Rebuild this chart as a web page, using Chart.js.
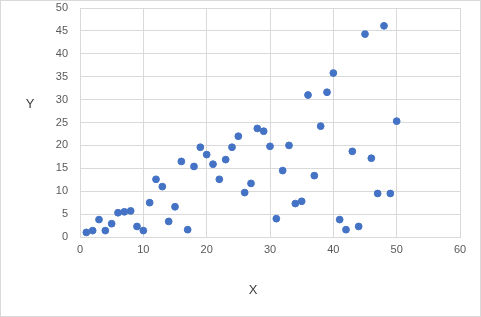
<!DOCTYPE html>
<html>
<head>
<meta charset="utf-8">
<script src="https://cdn.jsdelivr.net/npm/chart.js@4/dist/chart.umd.min.js"></script>
<style>
  body { margin: 0; background: #fff; }
  #wrap { width: 481px; height: 317px; box-sizing: border-box; border: 1px solid #d9d9d9; background: #fff; }
  #wrap canvas { display: block; }
</style>
</head>
<body>
<div id="wrap"><canvas id="scatterChart" width="479" height="315"></canvas></div>
<script>
const xValues = [1, 2, 3, 4, 5, 6, 7, 8, 9, 10,
                 11, 12, 13, 14, 15, 16, 17, 18, 19, 20,
                 21, 22, 23, 24, 25, 26, 27, 28, 29, 30,
                 31, 32, 33, 34, 35, 36, 37, 38, 39, 40,
                 41, 42, 43, 44, 45, 46, 47, 48, 49, 50];
const yValues = [1.0, 1.4, 3.8, 1.4, 2.9, 5.3, 5.5, 5.7, 2.3, 1.4,
                 7.5, 12.6, 11.0, 3.4, 6.6, 16.5, 1.6, 15.4, 19.6, 18.0,
                 15.9, 12.6, 16.9, 19.6, 22.0, 9.7, 11.7, 23.7, 23.1, 19.8,
                 4.0, 14.5, 20.0, 7.3, 7.8, 31.0, 13.4, 24.2, 31.6, 35.8,
                 3.8, 1.6, 18.7, 2.3, 44.3, 17.2, 9.5, 46.1, 9.5, 25.3];
const xAxisRange = { min: 0, max: 60, step: 10 };
const yAxisRange = { min: 0, max: 50, step: 5 };
const xTitle = 'X';
const yTitle = 'Y';

const points = xValues.map((x, i) => ({ x: x, y: yValues[i] }));

// axis titles sit where Excel puts them (Y is horizontal, not rotated)
const axisTitles = {
    id: 'axisTitles',
    afterDraw(chart) {
        const { ctx, chartArea } = chart;
        ctx.save();
        ctx.fillStyle = '#404040';
        ctx.font = '13px "Liberation Sans", Arial, sans-serif';
        ctx.textAlign = 'center';
        ctx.textBaseline = 'middle';
        ctx.fillText(xTitle, (chartArea.left + chartArea.right) / 2 - 17, chartArea.bottom + 53);
        ctx.fillText(yTitle, chartArea.left - 50, chartArea.top + 96);
        ctx.restore();
    }
};

const gridColor = '#d9d9d9';
const tickFont = { family: '"Liberation Sans", Arial, sans-serif', size: 11 };

new Chart(document.getElementById('scatterChart'), {
    type: 'scatter',
    data: {
        datasets: [{
            data: points,
            backgroundColor: '#4472c4',
            borderColor: '#4472c4',
            pointRadius: 3.4,
            pointHoverRadius: 3.4
        }]
    },
    options: {
        responsive: false,
        animation: false,
        layout: { padding: { left: 9, right: 20, top: 7, bottom: 8 } },
        plugins: {
            legend: { display: false },
            tooltip: { enabled: false }
        },
        scales: {
            x: {
                type: 'linear',
                min: xAxisRange.min,
                max: xAxisRange.max,
                ticks: { stepSize: xAxisRange.step, color: '#595959', font: tickFont, padding: 6, maxRotation: 0 },
                grid: { color: gridColor, drawTicks: false },
                border: { color: gridColor },
                afterFit(scale) { scale.height = 71; scale.paddingLeft = 0; scale.paddingRight = 0; }
            },
            y: {
                type: 'linear',
                min: yAxisRange.min,
                max: yAxisRange.max,
                ticks: { stepSize: yAxisRange.step, color: '#595959', font: tickFont, padding: 12 },
                grid: { color: gridColor, drawTicks: false },
                border: { color: gridColor },
                afterFit(scale) { scale.width = 70; scale.paddingTop = 0; scale.paddingBottom = 0; }
            }
        }
    },
    plugins: [axisTitles]
});
</script>
</body>
</html>
